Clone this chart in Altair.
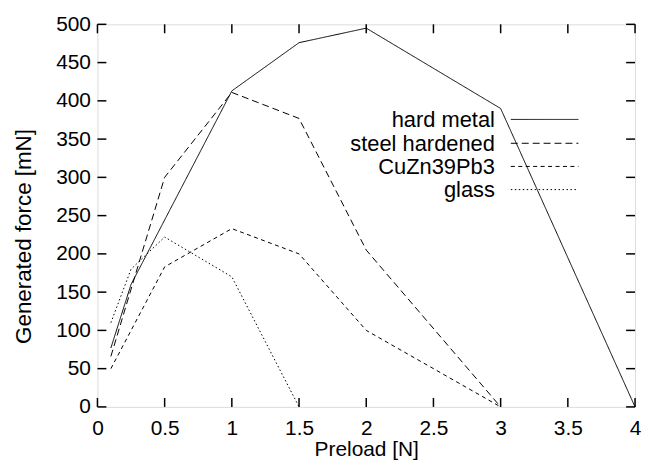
import altair as alt
import pandas as pd

series_names = ["hard metal", "steel hardened", "CuZn39Pb3", "glass"]

hard_x = [0.1, 0.25, 1.0, 1.5, 2.0, 3.0, 4.0]
hard_y = [77, 160, 413, 476, 495, 390, 0]

steel_x = [0.1, 0.5, 1.0, 1.5, 2.0, 3.0]
steel_y = [66, 300, 411, 377, 205, 0]

cuzn_x = [0.1, 0.5, 1.0, 1.5, 2.0, 3.0]
cuzn_y = [50, 183, 233, 200, 100, 0]

glass_x = [0.1, 0.25, 0.5, 1.0, 1.5]
glass_y = [110, 180, 222, 170, 0]

x_ticks = [0, 0.5, 1, 1.5, 2, 2.5, 3, 3.5, 4]
y_ticks = [0, 50, 100, 150, 200, 250, 300, 350, 400, 450, 500]

FONT = "Liberation Sans"
W, H = 541, 385
dashes = [[1, 0], [7, 4], [4, 3.5], [1.5, 2.5]]

rows = []
for name, xs, ys in [("hard metal", hard_x, hard_y), ("steel hardened", steel_x, steel_y),
                     ("CuZn39Pb3", cuzn_x, cuzn_y), ("glass", glass_x, glass_y)]:
    for i, (a, b) in enumerate(zip(xs, ys)):
        rows.append({"series": name, "preload": a, "force": b, "idx": i})
df = pd.DataFrame(rows)

xscale = alt.Scale(domain=[0, 4], nice=False, zero=False)
yscale = alt.Scale(domain=[0, 500], nice=False)

x_axis = alt.Axis(title="Preload [N]", values=x_ticks,
                  labelExpr="format(datum.value, '~g')", grid=False,
                  domain=False, ticks=False, tickSize=0, labelPadding=11,
                  labelFontSize=21, labelFont=FONT, labelColor="black",
                  labelFlush=False, labelOverlap=False, labelBound=False,
                  titleFont=FONT, titleFontSize=21, titleFontWeight="normal",
                  titleColor="black", titleX=270.5, titleY=48.5,
                  titleBaseline="alphabetic", titleAlign="center")
y_axis = alt.Axis(title="Generated force [mN]", values=y_ticks,
                  labelExpr="format(datum.value, 'd')", grid=False,
                  domain=False, ticks=False, tickSize=0, labelPadding=7,
                  labelFontSize=21, labelFont=FONT, labelColor="black",
                  labelFlush=False, labelOverlap=False, labelBound=False,
                  titleFont=FONT, titleFontSize=22.5, titleFontWeight="normal",
                  titleColor="black", titleX=-74, titleY=213, titleAngle=-90,
                  titleBaseline="middle", titleAlign="center")

lines = alt.Chart(df).mark_line(color="black", strokeWidth=1).encode(
    x=alt.X("preload:Q", scale=xscale, axis=x_axis, title="Preload [N]"),
    y=alt.Y("force:Q", scale=yscale, axis=y_axis, title="Generated force [mN]"),
    strokeDash=alt.StrokeDash("series:N", scale=alt.Scale(domain=series_names, range=dashes),
                              legend=None),
    detail="series:N",
    order="idx:Q",
)

xt = pd.DataFrame({"v": x_ticks})
yt = pd.DataFrame({"v": y_ticks})
TL = 9
tick_bottom = alt.Chart(xt).mark_rule(color="black", strokeWidth=1.5).encode(
    x=alt.X("v:Q", scale=xscale, axis=x_axis, title="Preload [N]"),
    y=alt.value(H), y2=alt.value(H - TL))
tick_top = alt.Chart(xt).mark_rule(color="black", strokeWidth=1.5).encode(
    x=alt.X("v:Q", scale=xscale, axis=x_axis, title="Preload [N]"),
    y=alt.value(0), y2=alt.value(TL))
tick_left = alt.Chart(yt).mark_rule(color="black", strokeWidth=1.5).encode(
    y=alt.Y("v:Q", scale=yscale, axis=y_axis, title="Generated force [mN]"),
    x=alt.value(0), x2=alt.value(TL))
tick_right = alt.Chart(yt).mark_rule(color="black", strokeWidth=1.5).encode(
    y=alt.Y("v:Q", scale=yscale, axis=y_axis, title="Generated force [mN]"),
    x=alt.value(W - TL), x2=alt.value(W))

# legend (gnuplot style: label then sample line)
leg_layers = []
text_right = 400
line_x0, line_x1 = 416, 484
row_line_y = [95.7, 119.7, 143, 166.3]
row_text_y = [103.7, 127, 150.3, 173.7]
for i, name in enumerate(series_names):
    ldf = pd.DataFrame({"series": [name]})
    leg_layers.append(
        alt.Chart(ldf).mark_text(align="right", baseline="alphabetic", font=FONT, fontSize=22,
                                 color="black").encode(
            text="series:N", x=alt.value(text_right), y=alt.value(row_text_y[i]))
    )
    leg_layers.append(
        alt.Chart(ldf).mark_rule(color="black", strokeWidth=1, strokeDash=dashes[i]).encode(
            x=alt.value(line_x0), x2=alt.value(line_x1), y=alt.value(row_line_y[i]))
    )

chart = alt.layer(lines, tick_bottom, tick_top, tick_left, tick_right, *leg_layers).properties(
    width=W, height=H,
    autosize=alt.AutoSizeParams(type="none"),
    padding={"left": 90, "top": 15, "right": 7, "bottom": 52},
).configure_view(stroke="black", strokeWidth=2).configure(background="white")

chart.save("out.html", embed_options={"renderer": "svg", "actions": False})
